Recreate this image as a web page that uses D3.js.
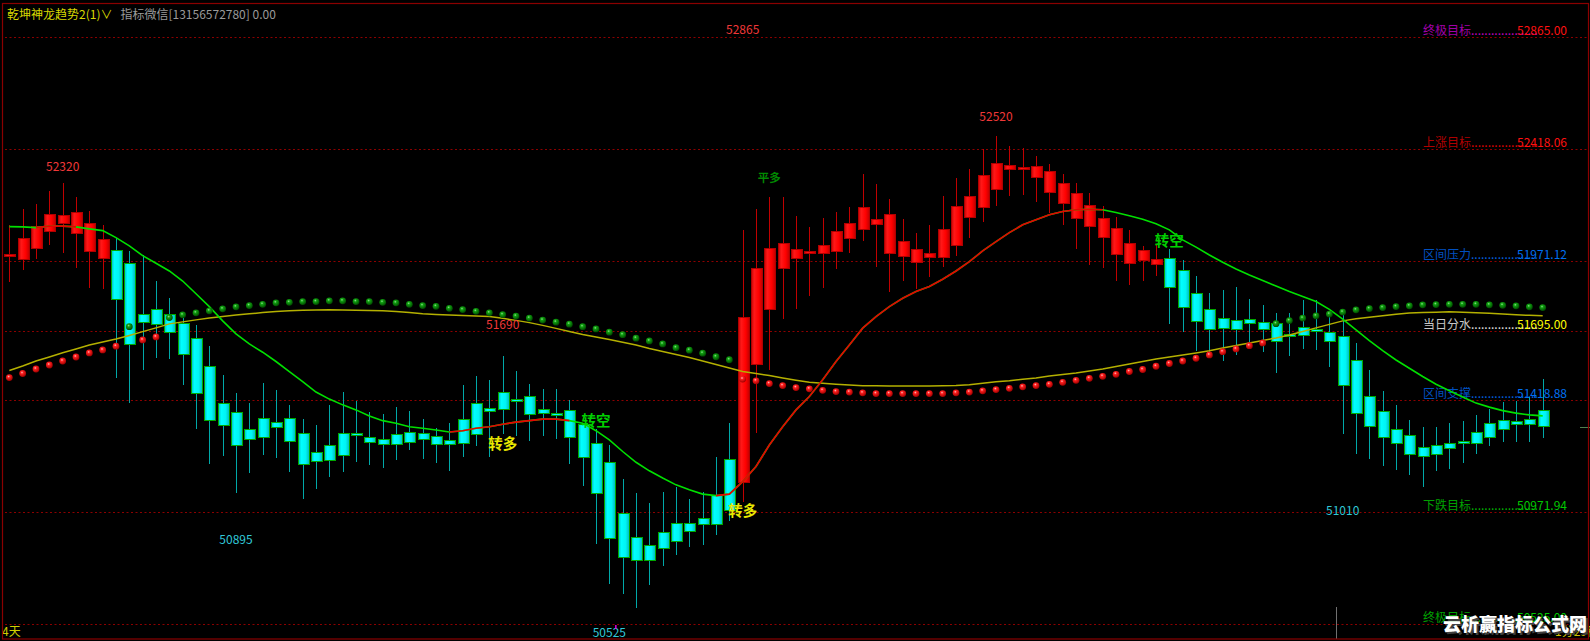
<!DOCTYPE html>
<html><head><meta charset="utf-8">
<script src="https://cdn.jsdelivr.net/npm/d3@7"></script>
<style>html,body{margin:0;padding:0;background:#000;overflow:hidden}</style>
</head><body>
<svg id="c" width="1590" height="641"></svg>
<script>
// ---------------- DATA ----------------
const open = [
51990,51977,52024,52090,52124,52084,52010,51981,52013,51961,
51758,51780,51758,51725,51662,51552,51406,51368,51302,51346,
51328,51343,51286,51209,51235,51286,51283,51270,51262,51279,
51290,51286,51272,51255,51342,51403,51383,51448,51422,51431,
51382,51366,51375,51319,51243,51170,50964,50871,50837,50890,
50924,50927,50947,51036,51182,51089,51558,51780,51941,51981,
52001,52004,52009,52061,52100,52118,52004,51990,51966,51988,
51988,52034,52146,52187,52256,52336,52341,52305,52245,52203,
52141,52110,52066,51999,51964,51973,51960,51984,51934,51842,
51780,51745,51735,51738,51729,51722,51681,51707,51698,51689,
51671,51576,51432,51371,51302,51278,51230,51235,51243,51252,
51288,51323,51336,51334,51342,51375];
const high = [
52117,52179,52200,52250,52285,52227,52173,52117,52064,52013,
51997,51895,51827,51751,51718,51634,51519,51446,51406,51488,
51459,51399,51342,51319,51399,51450,51416,51370,51363,51392,
51375,51342,51306,51326,51479,51516,51499,51594,51534,51483,
51461,51461,51419,51325,51302,51239,51103,51047,51007,51053,
51073,51023,51053,51193,51326,52097,52179,52230,52227,52153,
52110,52146,52170,52190,52320,52280,52219,52141,52084,52117,
52232,52303,52340,52420,52472,52432,52423,52392,52360,52320,
52283,52243,52193,52150,52097,52033,52037,52021,51977,51911,
51844,51857,51868,51820,51798,51767,51765,51818,51818,51771,
51778,51645,51538,51455,51399,51339,51312,51312,51328,51336,
51358,51382,51411,51416,51432,51501];
const low = [
51891,51937,51981,52037,52004,51946,51867,51860,51508,51406,
51538,51587,51582,51479,51302,51164,51195,51047,51126,51199,
51186,51130,51023,51063,51113,51133,51173,51160,51146,51180,
51217,51182,51166,51137,51193,51235,51193,51282,51275,51255,
51275,51263,51164,51077,50845,50685,50645,50588,50681,50757,
50801,50834,50841,50880,50934,51013,51288,51538,51741,51782,
51834,51867,51940,52004,52053,51950,51851,51895,51860,51908,
51950,51993,52066,52130,52193,52233,52236,52210,52163,52117,
52021,51957,51946,51893,51877,51895,51911,51720,51691,51615,
51585,51574,51598,51651,51611,51528,51594,51622,51618,51552,
51283,51203,51184,51156,51140,51120,51071,51137,51144,51166,
51203,51235,51249,51252,51252,51268];
const close = [
51997,52064,52110,52157,52154,52166,52124,52060,51818,51641,
51729,51718,51687,51598,51443,51336,51316,51235,51259,51268,
51308,51252,51160,51173,51177,51199,51275,51250,51242,51242,
51249,51259,51242,51242,51243,51279,51372,51379,51412,51359,
51363,51355,51268,51190,51047,50865,50790,50777,50778,50827,
50854,50894,50920,50920,50976,51749,51944,52021,52044,52017,
52012,52033,52089,52121,52187,52139,52157,52049,52017,52001,
52100,52190,52230,52312,52360,52352,52344,52349,52331,52280,
52243,52195,52143,52104,52044,52013,51977,51869,51789,51731,
51698,51702,51698,51725,51698,51651,51671,51675,51693,51651,
51475,51363,51312,51267,51243,51203,51193,51203,51223,51246,
51243,51267,51299,51320,51320,51312];
// trend line (green = bearish, red = bullish)
const trendLine = [
52110,52109,52106,52112,52112,52109,52101,52094,52066,52033,
51994,51964,51933,51893,51842,51791,51734,51682,51642,51609,
51572,51532,51492,51450,51422,51399,51379,51355,51336,51326,
51312,51306,51299,51291,51296,51306,51312,51322,51330,51336,
51342,51342,51336,51326,51296,51259,51213,51170,51136,51107,
51080,51060,51043,51037,51043,51093,51153,51239,51312,51379,
51432,51499,51572,51638,51705,51751,51791,51824,51851,51871,
51900,51933,51970,52013,52050,52086,52117,52137,52157,52170,
52177,52179,52177,52166,52153,52139,52121,52097,52057,52028,
51997,51968,51941,51917,51895,51873,51851,51831,51811,51780,
51741,51698,51655,51615,51578,51545,51512,51481,51455,51430,
51406,51390,51376,51366,51359,51355];
// index ranges where the trend line is bullish (red)
const bullRuns = [[2,5],[33,42],[53,82]];
// slow yellow line
const slowLine = [
51536,51554,51574,51590,51607,51622,51638,51650,51662,51676,
51691,51706,51722,51730,51738,51745,51751,51757,51762,51767,
51771,51774,51776,51777,51778,51777,51776,51775,51774,51771,
51767,51762,51759,51757,51755,51753,51751,51744,51736,51727,
51716,51704,51692,51680,51670,51660,51649,51638,51624,51612,
51600,51588,51574,51560,51546,51532,51524,51516,51506,51497,
51489,51485,51481,51478,51475,51475,51474,51474,51474,51474,
51475,51476,51479,51485,51491,51495,51501,51506,51514,51520,
51526,51534,51542,51552,51562,51572,51582,51590,51598,51606,
51615,51626,51636,51646,51656,51666,51678,51692,51706,51720,
51734,51742,51748,51754,51760,51765,51767,51768,51770,51768,
51766,51764,51761,51758,51756,51754];
// ball markers (above slow line = green, below = red)
const dotLine = [
51508,51524,51542,51558,51574,51590,51606,51618,51633,51711,
51658,51670,51747,51758,51766,51774,51782,51790,51795,51800,
51806,51808,51811,51811,51814,51814,51811,51811,51808,51806,
51800,51795,51792,51784,51779,51772,51766,51759,51753,51745,
51737,51729,51721,51711,51702,51689,51679,51665,51654,51642,
51627,51617,51605,51591,51579,51502,51495,51484,51476,51468,
51463,51457,51452,51450,51447,51444,51444,51444,51444,51444,
51444,51447,51450,51455,51460,51465,51471,51476,51481,51489,
51497,51505,51513,51521,51532,51540,51553,51564,51574,51585,
51598,51611,51622,51635,51646,51723,51735,51745,51754,51761,
51769,51778,51783,51787,51791,51794,51798,51799,51800,51800,
51800,51798,51796,51794,51790,51787];
// right-side price levels
const levelValues = [52865, 52418.06, 51971.12, 51695, 51418.88, 50971.94, 50525];
const levelNames  = ['终极目标','上涨目标','区间压力','当日分水','区间支撑','下跌目标','终极目标'];
const levelNameColors  = ['#a000a8','#b00000','#0050c0','#c8c8c8','#0050c0','#00a000','#00a000'];
const levelDotColors   = ['#c000c0','#e00000','#0060e0','#e0e0e0','#0060e0','#00b000','#00b000'];
const levelValueColors = ['#ff1010','#ff1010','#0070f0','#ffff00','#0070f0','#00c800','#00c800'];
// extreme-value annotations
const extremeIdx  = [4, 55, 74, 37, 17, 45, 100];
const extremeVal  = [52320, 52865, 52520, 51690, 50895, 50525, 51010];
const extremeKind = ['high','high','high','high','low','low','low'];
// signal texts
const signalIdx  = [37, 55, 44, 87, 57];
const signalText = ['转多','转多','转空','转空','平多'];
const signalKind = ['low','low','high','high','highFar'];

// ---------------- DRAW ----------------
const W = 1590, H = 641, N = open.length;
const FONT = '"Noto Sans CJK SC","Noto Sans",sans-serif';
const svg = d3.select('#c');
svg.append('rect').attr('width', W).attr('height', H).attr('fill', '#000');

const x = d3.scaleLinear().domain([0, N - 1]).range([9.33, 1542.7]);
const y = d3.scaleLinear().domain([50525, 52865]).range([624, 37.3]);
const cx = i => Math.round(x(i)) + 0.5;

const defs = svg.append('defs');
function lg(id, stops) {
  const g = defs.append('linearGradient').attr('id', id)
    .attr('x1', '0%').attr('x2', '100%').attr('y1', '0%').attr('y2', '0%');
  stops.forEach(s => g.append('stop').attr('offset', s[0]).attr('stop-color', s[1]));
}
function rg(id, stops) {
  const g = defs.append('radialGradient').attr('id', id)
    .attr('cx', '40%').attr('cy', '35%').attr('r', '65%');
  stops.forEach(s => g.append('stop').attr('offset', s[0]).attr('stop-color', s[1]));
}
lg('gRed', [['0%', '#c00000'], ['30%', '#ff1818'], ['70%', '#ff0000'], ['100%', '#c80000']]);
lg('gCyan', [['0%', '#00b0b0'], ['30%', '#00ffff'], ['70%', '#00f4f4'], ['100%', '#00c0c0']]);
rg('dRed', [['0%', '#ffc0c0'], ['30%', '#ff2020'], ['100%', '#a00000']]);
rg('dGreen', [['0%', '#90e090'], ['30%', '#10a010'], ['100%', '#004a00']]);

// level dotted lines
svg.append('g').selectAll('line').data(levelValues).join('line')
  .attr('x1', 5).attr('x2', 1588)
  .attr('y1', v => Math.round(y(v)) + 0.5).attr('y2', v => Math.round(y(v)) + 0.5)
  .attr('stroke', '#8c0000').attr('stroke-width', 1).attr('stroke-dasharray', '2,2.5');

// level labels
const lab = svg.append('g').attr('font-family', FONT).attr('font-size', 12);
levelValues.forEach((v, k) => {
  const by = y(v) - 2;
  const t = lab.append('text').attr('x', 1423).attr('y', by);
  t.append('tspan').attr('fill', levelNameColors[k]).text(levelNames[k]);
  t.append('tspan').attr('fill', levelDotColors[k]).text('....................');
  lab.append('text').attr('x', 1567).attr('y', by).attr('text-anchor', 'end')
    .attr('fill', levelValueColors[k]).text(v.toFixed(2));
});

// candles
const idx = d3.range(N);
const up = i => close[i] >= open[i];
const cg = svg.append('g');
cg.selectAll('line').data(idx).join('line')
  .attr('x1', cx).attr('x2', cx)
  .attr('y1', i => y(high[i])).attr('y2', i => y(low[i]))
  .attr('stroke', i => up(i) ? '#c00000' : '#00a8a8').attr('stroke-width', 1)
  .attr('shape-rendering', 'crispEdges');
cg.selectAll('rect').data(idx).join('rect')
  .attr('x', i => cx(i) - 5.5).attr('width', 11)
  .attr('y', i => y(Math.max(open[i], close[i])))
  .attr('height', i => Math.max(1.5, y(Math.min(open[i], close[i])) - y(Math.max(open[i], close[i]))))
  .attr('fill', i => up(i) ? 'url(#gRed)' : 'url(#gCyan)')
  .attr('stroke', i => up(i) ? '#b00000' : '#00a800').attr('stroke-width', 1)
  .attr('shape-rendering', 'crispEdges');

// slow yellow line
svg.append('path').datum(idx)
  .attr('d', d3.line().x(i => x(i)).y(i => y(slowLine[i])))
  .attr('fill', 'none').attr('stroke', '#b4b000').attr('stroke-width', 1.5);

// trend line: green, then red bullish runs on top
svg.append('path').datum(idx)
  .attr('d', d3.line().x(i => x(i)).y(i => y(trendLine[i])))
  .attr('fill', 'none').attr('stroke', '#00e000').attr('stroke-width', 1.6);
bullRuns.forEach(r => {
  svg.append('path').datum(d3.range(r[0], r[1] + 1))
    .attr('d', d3.line().x(i => x(i)).y(i => y(trendLine[i])))
    .attr('fill', 'none').attr('stroke', '#e80000').attr('stroke-width', 1.6);
});

// ball markers
svg.append('g').selectAll('circle').data(idx).join('circle')
  .attr('cx', i => x(i)).attr('cy', i => y(dotLine[i])).attr('r', 3.4)
  .attr('fill', i => dotLine[i] > slowLine[i] ? 'url(#dGreen)' : 'url(#dRed)');

// extreme annotations
const ann = svg.append('g').attr('font-family', FONT).attr('font-size', 12).attr('text-anchor', 'middle');
extremeIdx.forEach((i, k) => {
  const hi = extremeKind[k] === 'high';
  ann.append('text').attr('x', x(i)).attr('y', y(extremeVal[k]) + (hi ? -3 : 13))
    .attr('fill', hi ? '#f03838' : '#30c8d8').text(extremeVal[k]);
});
// small magenta tick on lowest-low marker
svg.append('line').attr('x1', x(45) + 6.5).attr('x2', x(45) + 6.5)
  .attr('y1', y(50525) + 1).attr('y2', y(50525) + 5)
  .attr('stroke', '#e000e0').attr('stroke-width', 1.5);

// signals
signalIdx.forEach((i, k) => {
  const kind = signalKind[k];
  let by, fill, fs;
  if (kind === 'low') { by = y(low[i]) + 14.5; fill = '#e8e800'; fs = 14.5; }
  else if (kind === 'high') { by = y(high[i]) - 3; fill = '#00d000'; fs = 14.5; }
  else { by = y(high[i]) - 14.5; fill = '#008a00'; fs = 11.5; }
  ann.append('text').attr('x', x(i)).attr('y', by).attr('font-size', fs)
    .attr('font-weight', 'bold').attr('fill', fill).text(signalText[k]);
});

// current-price stub at right edge
svg.append('line').attr('x1', 1580).attr('x2', 1590)
  .attr('y1', Math.round(y(close[N - 1])) + 0.5).attr('y2', Math.round(y(close[N - 1])) + 0.5)
  .attr('stroke', '#508050').attr('stroke-width', 1);
// day divider stub at bottom
svg.append('line').attr('x1', 1336.5).attr('x2', 1336.5).attr('y1', 607).attr('y2', 639)
  .attr('stroke', '#707070').attr('stroke-width', 1);

// title
const tt = svg.append('text').attr('x', 7).attr('y', 18.5).attr('font-family', FONT).attr('font-size', 12);
tt.append('tspan').attr('fill', '#d8d800').text('乾坤神龙趋势2(1)');
tt.append('tspan').attr('fill', '#d8d800').text('∨');
tt.append('tspan').attr('fill', '#9a9a9a').attr('dx', 8).text('指标微信[13156572780] 0.00');

// bottom texts
svg.append('text').attr('x', 2).attr('y', 636).attr('font-family', FONT).attr('font-size', 12)
  .attr('fill', '#d0d000').text('4天');
svg.append('text').attr('x', 1555).attr('y', 636).attr('font-family', FONT).attr('font-size', 12)
  .attr('fill', '#d0c000').text('1分29秒');

// border
svg.append('rect').attr('x', 2.5).attr('y', 3.5).attr('width', 1586).attr('height', 635.5)
  .attr('fill', 'none').attr('stroke', '#8a0000').attr('stroke-width', 1.2);

// watermark
const wm = svg.append('g').attr('font-family', FONT).attr('font-size', 18).attr('font-weight', 900);
wm.append('text').attr('x', 1445).attr('y', 633).attr('fill', '#404040').text('云析赢指标公式网');
wm.append('text').attr('x', 1443).attr('y', 631).attr('fill', '#ffffff').text('云析赢指标公式网');
</script>
</body></html>
